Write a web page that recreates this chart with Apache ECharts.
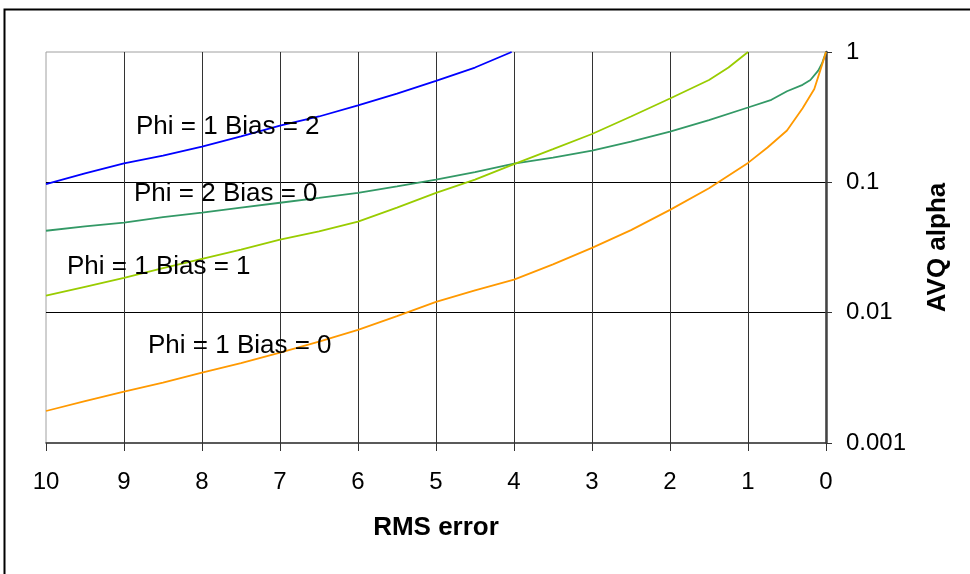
<!DOCTYPE html>
<html>
<head>
<meta charset="utf-8">
<script src="https://cdn.jsdelivr.net/npm/echarts@6/dist/echarts.min.js"></script>
<style>
html,body{margin:0;padding:0;background:#fff;}
#chart{width:970px;height:574px;}
</style>
</head>
<body>
<div id="chart"></div>
<script>
// RMS error (x) and AVQ alpha (y) values per series
const bias2X = [10, 9.5, 9, 8.5, 8, 7.5, 7, 6.5, 6, 5.5, 5, 4.5, 4.25, 4.03];
const bias2Y = [0.097, 0.117, 0.14, 0.16, 0.188, 0.225, 0.272, 0.32, 0.39, 0.48, 0.60, 0.76, 0.88, 1.0];

const phi2X = [10, 9.5, 9, 8.5, 8, 7.5, 7, 6.5, 6, 5.5, 5, 4.5, 4, 3.5, 3, 2.5, 2, 1.5, 1, 0.7, 0.5, 0.3, 0.2, 0.1, 0.05, 0];
const phi2Y = [0.0425, 0.046, 0.049, 0.054, 0.0586, 0.064, 0.0697, 0.076, 0.083, 0.093, 0.105, 0.12, 0.139, 0.155, 0.175, 0.205, 0.245, 0.30, 0.375, 0.43, 0.5, 0.56, 0.61, 0.72, 0.82, 1.0];

const bias1X = [10, 9.5, 9, 8.5, 8, 7.5, 7, 6.5, 6, 5.5, 5, 4.5, 4, 3.5, 3, 2.5, 2, 1.5, 1.25, 1.0];
const bias1Y = [0.0135, 0.0158, 0.0185, 0.022, 0.0259, 0.0305, 0.0363, 0.042, 0.05, 0.064, 0.083, 0.105, 0.138, 0.18, 0.235, 0.32, 0.44, 0.61, 0.76, 1.0];

const bias0X = [10, 9.5, 9, 8.5, 8, 7.5, 7, 6.5, 6, 5.5, 5, 4.5, 4, 3.5, 3, 2.5, 2, 1.5, 1, 0.75, 0.5, 0.3, 0.15, 0.05, 0];
const bias0Y = [0.00176, 0.0021, 0.00248, 0.0029, 0.00346, 0.0041, 0.00494, 0.006, 0.00738, 0.0094, 0.0121, 0.0148, 0.0179, 0.0235, 0.0314, 0.043, 0.0615, 0.09, 0.141, 0.185, 0.25, 0.37, 0.52, 0.8, 1.0];

const seriesNames = ['Phi = 1 Bias = 2', 'Phi = 2 Bias = 0', 'Phi = 1 Bias = 1', 'Phi = 1 Bias = 0'];
const xTitle = 'RMS error';
const yTitle = 'AVQ alpha';

function pairs(xs, ys) { return xs.map((x, i) => [x, ys[i]]); }

const FONT = '"Liberation Sans", Arial, sans-serif';
const chart = echarts.init(document.getElementById('chart'), null, {renderer: 'canvas'});

function lineSeries(name, xs, ys, color) {
  return {
    name: name, type: 'line', data: pairs(xs, ys), showSymbol: false, smooth: false,
    lineStyle: {color: color, width: 1.8}, itemStyle: {color: color}, z: 5, animation: false
  };
}

chart.setOption({
  animation: false,
  backgroundColor: '#fff',
  grid: {left: 46, right: 144, top: 52, bottom: 131, show: true, borderColor: '#a0a0a0', borderWidth: 1},
  xAxis: {
    type: 'value', inverse: true, min: 0, max: 10, interval: 1,
    name: xTitle, nameLocation: 'middle', nameGap: 72,
    nameTextStyle: {fontFamily: FONT, fontSize: 26, fontWeight: 'bold', color: '#000'},
    axisLine: {show: true, onZero: false, lineStyle: {color: '#333', width: 1.5}},
    axisTick: {show: true, inside: false, length: 8, lineStyle: {color: '#333', width: 1}},
    axisLabel: {fontFamily: FONT, fontSize: 24, color: '#000', margin: 27},
    splitLine: {show: true, showMinLine: false, showMaxLine: false, lineStyle: {color: '#333', width: 1}}
  },
  yAxis: {
    type: 'log', logBase: 10, min: 0.001, max: 1, position: 'right',
    name: yTitle, nameLocation: 'middle', nameGap: 99, nameRotate: 90,
    nameTextStyle: {fontFamily: FONT, fontSize: 26, fontWeight: 'bold', color: '#000'},
    axisLine: {show: true, lineStyle: {color: '#444', width: 2.5}},
    axisTick: {show: true, inside: false, length: 6, lineStyle: {color: '#333', width: 1}},
    axisLabel: {fontFamily: FONT, fontSize: 24, color: '#000', margin: 20,
      formatter: function (v) { return String(+v.toPrecision(6)); }},
    splitLine: {show: true, showMinLine: false, showMaxLine: false, lineStyle: {color: '#000', width: 1}}
  },
  series: [
    lineSeries(seriesNames[0], bias2X, bias2Y, '#0000ff'),
    lineSeries(seriesNames[1], phi2X, phi2Y, '#339966'),
    lineSeries(seriesNames[2], bias1X, bias1Y, '#99cc00'),
    lineSeries(seriesNames[3], bias0X, bias0Y, '#ff9900')
  ],
  graphic: [
    {type: 'rect', shape: {x: 4.5, y: 9.5, width: 1000, height: 600}, style: {fill: 'none', stroke: '#000', lineWidth: 2}, z: 100, silent: true},
    {type: 'text', left: 136, top: 114, style: {text: seriesNames[0], font: '26px ' + FONT, fill: '#000'}, z: 50},
    {type: 'text', left: 134, top: 181, style: {text: seriesNames[1], font: '26px ' + FONT, fill: '#000'}, z: 50},
    {type: 'text', left: 67, top: 254, style: {text: seriesNames[2], font: '26px ' + FONT, fill: '#000'}, z: 50},
    {type: 'text', left: 148, top: 333, style: {text: seriesNames[3], font: '26px ' + FONT, fill: '#000'}, z: 50}
  ]
});
</script>
</body>
</html>
